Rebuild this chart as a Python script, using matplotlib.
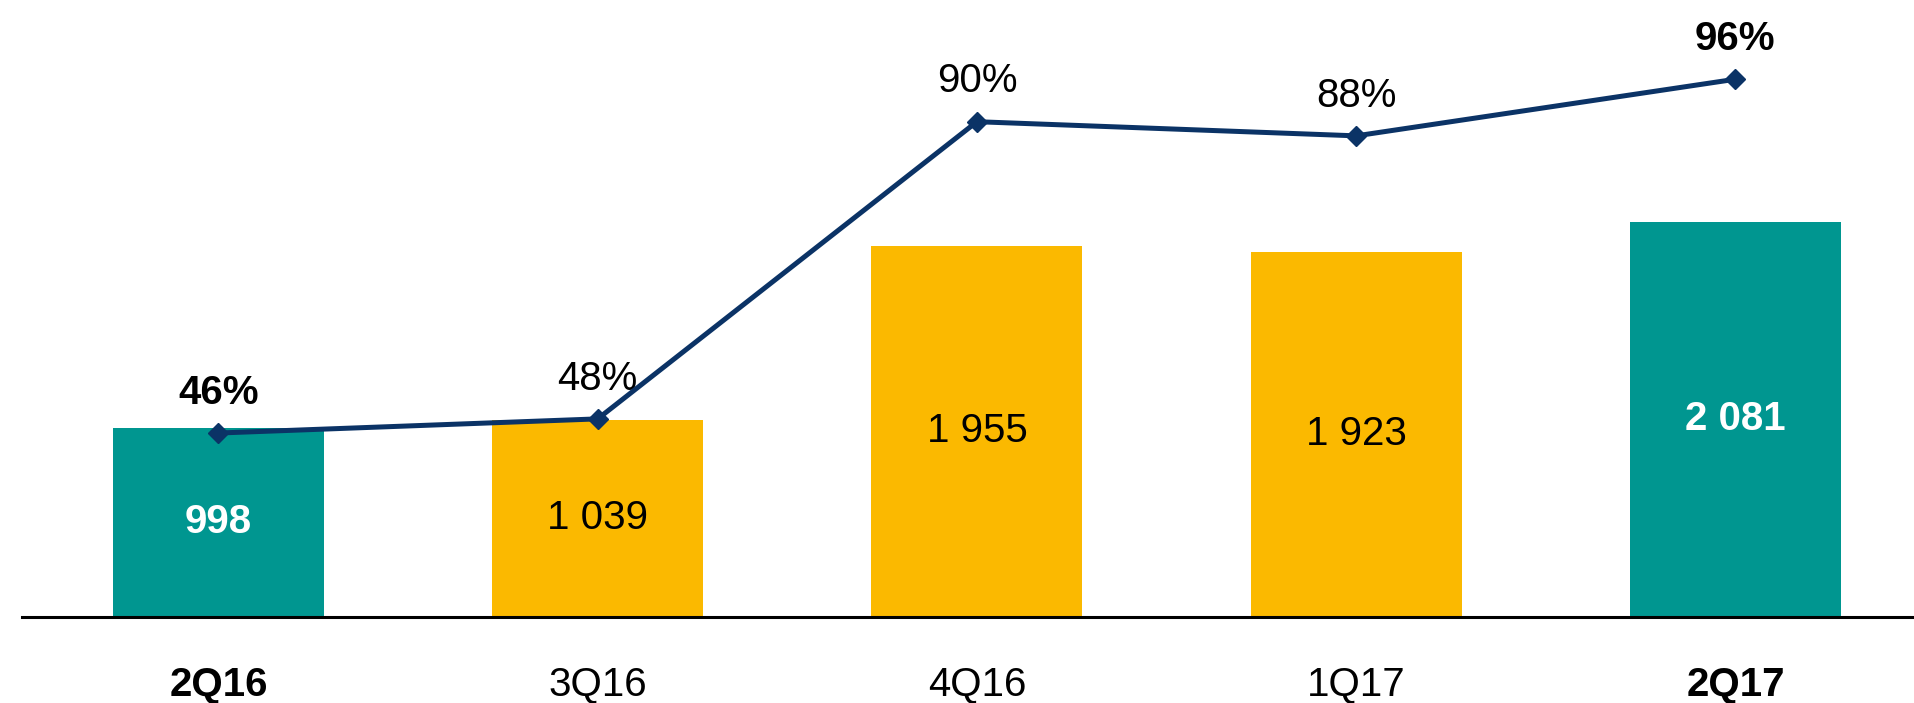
import matplotlib.pyplot as plt

plt.rcParams['font.family'] = ['Liberation Sans', 'DejaVu Sans']

# --- dane ---
kwartaly = ['2Q16', '3Q16', '4Q16', '1Q17', '2Q17']
wartosci = [998, 1039, 1955, 1923, 2081]
wartosci_txt = ['998', '1 039', '1 955', '1 923', '2 081']
procenty = [46, 48, 90, 88, 96]
wyroznione = [True, False, False, False, True]

TEAL = '#009690'
ZOLTY = '#FBB900'
GRANAT = '#0B3366'

fig = plt.figure(figsize=(19.14, 7.03), dpi=100)
ax = fig.add_axes([22 / 1914, 1 - 617 / 703, 1 - 22 / 1914, 617 / 703])

x = list(range(len(kwartaly)))
kolory = [TEAL if w else ZOLTY for w in wyroznione]
ax.bar(x, wartosci, width=0.556, color=kolory, zorder=2)

for xi, v, t, w in zip(x, wartosci, wartosci_txt, wyroznione):
    ax.text(xi, v / 2, t, ha='center', va='center', fontsize=29,
            color='white' if w else 'black',
            fontweight='bold' if w else 'normal', zorder=3)

ax.set_xlim(-0.518, 4.471)
ax.set_ylim(0, 3250)
ax.set_yticks([])
ax.set_xticks(x)
ax.set_xticklabels(kwartaly, fontsize=29)
for lab, w in zip(ax.get_xticklabels(), wyroznione):
    lab.set_fontweight('bold' if w else 'normal')
ax.tick_params(axis='x', length=0, pad=35)

for s in ['top', 'right', 'left']:
    ax.spines[s].set_visible(False)
ax.spines['bottom'].set_linewidth(2.2)
ax.spines['bottom'].set_color('black')

# oś pomocnicza dla procentów
ax2 = ax.twinx()
ax2.set_ylim(20.0, 107.2)
ax2.axis('off')
ax2.plot(x, procenty, color=GRANAT, linewidth=3.6, marker='D',
         markersize=10, zorder=4)
for xi, p, w in zip(x, procenty, wyroznione):
    ax2.annotate(f'{p}%', (xi, p), xytext=(0, 29), textcoords='offset points',
                 ha='center', va='center', fontsize=29,
                 fontweight='bold' if w else 'normal', color='black')

fig.savefig('out.png', dpi=100)
